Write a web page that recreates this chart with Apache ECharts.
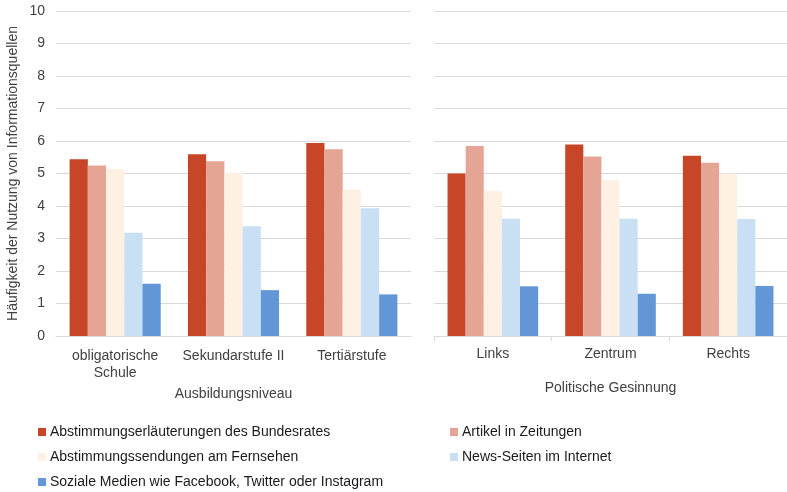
<!DOCTYPE html>
<html>
<head>
<meta charset="utf-8">
<script src="https://cdn.jsdelivr.net/npm/echarts@6/dist/echarts.min.js"></script>
<style>
html,body{margin:0;padding:0;background:#fff;}
#chart{width:787px;height:492px;}
</style>
</head>
<body>
<div id="chart"></div>
<script>
const categoriesEdu = ['obligatorische\nSchule', 'Sekundarstufe II', 'Tertiärstufe'];
const categoriesPol = ['Links', 'Zentrum', 'Rechts'];
const axisNameEdu = 'Ausbildungsniveau';
const axisNamePol = 'Politische Gesinnung';
const yAxisName = 'Häufigkeit der Nutzung von Informationsquellen';
const seriesNames = [
  'Abstimmungserläuterungen des Bundesrates',
  'Artikel in Zeitungen',
  'Abstimmungssendungen am Fernsehen',
  'News-Seiten im Internet',
  'Soziale Medien wie Facebook, Twitter oder Instagram'
];
const colors = ['#C64627', '#E5A595', '#FEF0E3', '#C9DFF3', '#6296D6'];

const eduBundesrat = [5.44, 5.59, 5.94];
const eduZeitungen = [5.25, 5.38, 5.75];
const eduFernsehen = [5.14, 5.02, 4.49];
const eduNews = [3.18, 3.38, 3.93];
const eduSocial = [1.61, 1.41, 1.28];

const polBundesrat = [5.00, 5.89, 5.55];
const polZeitungen = [5.85, 5.52, 5.33];
const polFernsehen = [4.46, 4.80, 5.00];
const polNews = [3.61, 3.61, 3.60];
const polSocial = [1.53, 1.30, 1.54];

const eduData = [eduBundesrat, eduZeitungen, eduFernsehen, eduNews, eduSocial];
const polData = [polBundesrat, polZeitungen, polFernsehen, polNews, polSocial];

const FONT = '"Liberation Sans", Arial, sans-serif';
const TXT = '#404040';
const GRIDC = '#D9D9D9';

const chart = echarts.init(document.getElementById('chart'), null, {renderer: 'canvas'});

const series = [];
seriesNames.forEach((n, i) => {
  series.push({
    name: n, type: 'bar', xAxisIndex: 0, yAxisIndex: 0,
    data: eduData[i], itemStyle: {color: colors[i]},
    barGap: '0%', barCategoryGap: '23%', animation: false
  });
});
seriesNames.forEach((n, i) => {
  series.push({
    name: n, type: 'bar', xAxisIndex: 1, yAxisIndex: 1,
    data: polData[i], itemStyle: {color: colors[i]},
    barGap: '0%', barCategoryGap: '23%', animation: false
  });
});

const legendPos = [
  {left: 38, top: 425},
  {left: 450, top: 425},
  {left: 38, top: 450},
  {left: 450, top: 450},
  {left: 38, top: 475}
];
const legends = seriesNames.map((n, i) => ({
  data: [n], left: legendPos[i].left, top: legendPos[i].top,
  icon: 'rect', itemWidth: 8, itemHeight: 8, itemGap: 0, padding: 0,
  textStyle: {fontFamily: FONT, fontSize: 14, color: '#1a1a1a', padding: [0, 0, 0, -1]},
  selectedMode: false
}));

const option = {
  backgroundColor: '#fff',
  animation: false,
  color: colors,
  legend: legends,
  grid: [
    {left: 56, right: 376, top: 11, bottom: 156, containLabel: false},
    {left: 434, right: 0, top: 11, bottom: 156, containLabel: false}
  ],
  xAxis: [
    {
      type: 'category', gridIndex: 0, data: categoriesEdu,
      name: axisNameEdu, nameLocation: 'middle', nameGap: 40,
      nameTextStyle: {fontFamily: FONT, fontSize: 14, color: TXT},
      axisLine: {lineStyle: {color: GRIDC, width: 1}},
      axisTick: {show: false},
      axisLabel: {interval: 0, fontFamily: FONT, fontSize: 14, color: TXT, margin: 12, lineHeight: 17}
    },
    {
      type: 'category', gridIndex: 1, data: categoriesPol,
      name: axisNamePol, nameLocation: 'middle', nameGap: 45,
      nameTextStyle: {fontFamily: FONT, fontSize: 14, color: TXT},
      axisLine: {lineStyle: {color: GRIDC, width: 1}},
      axisTick: {show: true, length: 5, lineStyle: {color: GRIDC}},
      axisLabel: {interval: 0, fontFamily: FONT, fontSize: 14, color: TXT, margin: 11}
    }
  ],
  yAxis: [
    {
      type: 'value', gridIndex: 0, min: 0, max: 10, interval: 1,
      name: yAxisName, nameLocation: 'middle', nameGap: 36, nameRotate: 90,
      nameTextStyle: {fontFamily: FONT, fontSize: 14, color: TXT},
      axisLine: {show: false}, axisTick: {show: false},
      axisLabel: {fontFamily: FONT, fontSize: 14, color: TXT, margin: 11},
      splitLine: {lineStyle: {color: GRIDC, width: 1}}
    },
    {
      type: 'value', gridIndex: 1, min: 0, max: 10, interval: 1,
      axisLine: {show: false}, axisTick: {show: false},
      axisLabel: {show: false},
      splitLine: {lineStyle: {color: GRIDC, width: 1}}
    }
  ],
  series: series
};
chart.setOption(option);
</script>
</body>
</html>
